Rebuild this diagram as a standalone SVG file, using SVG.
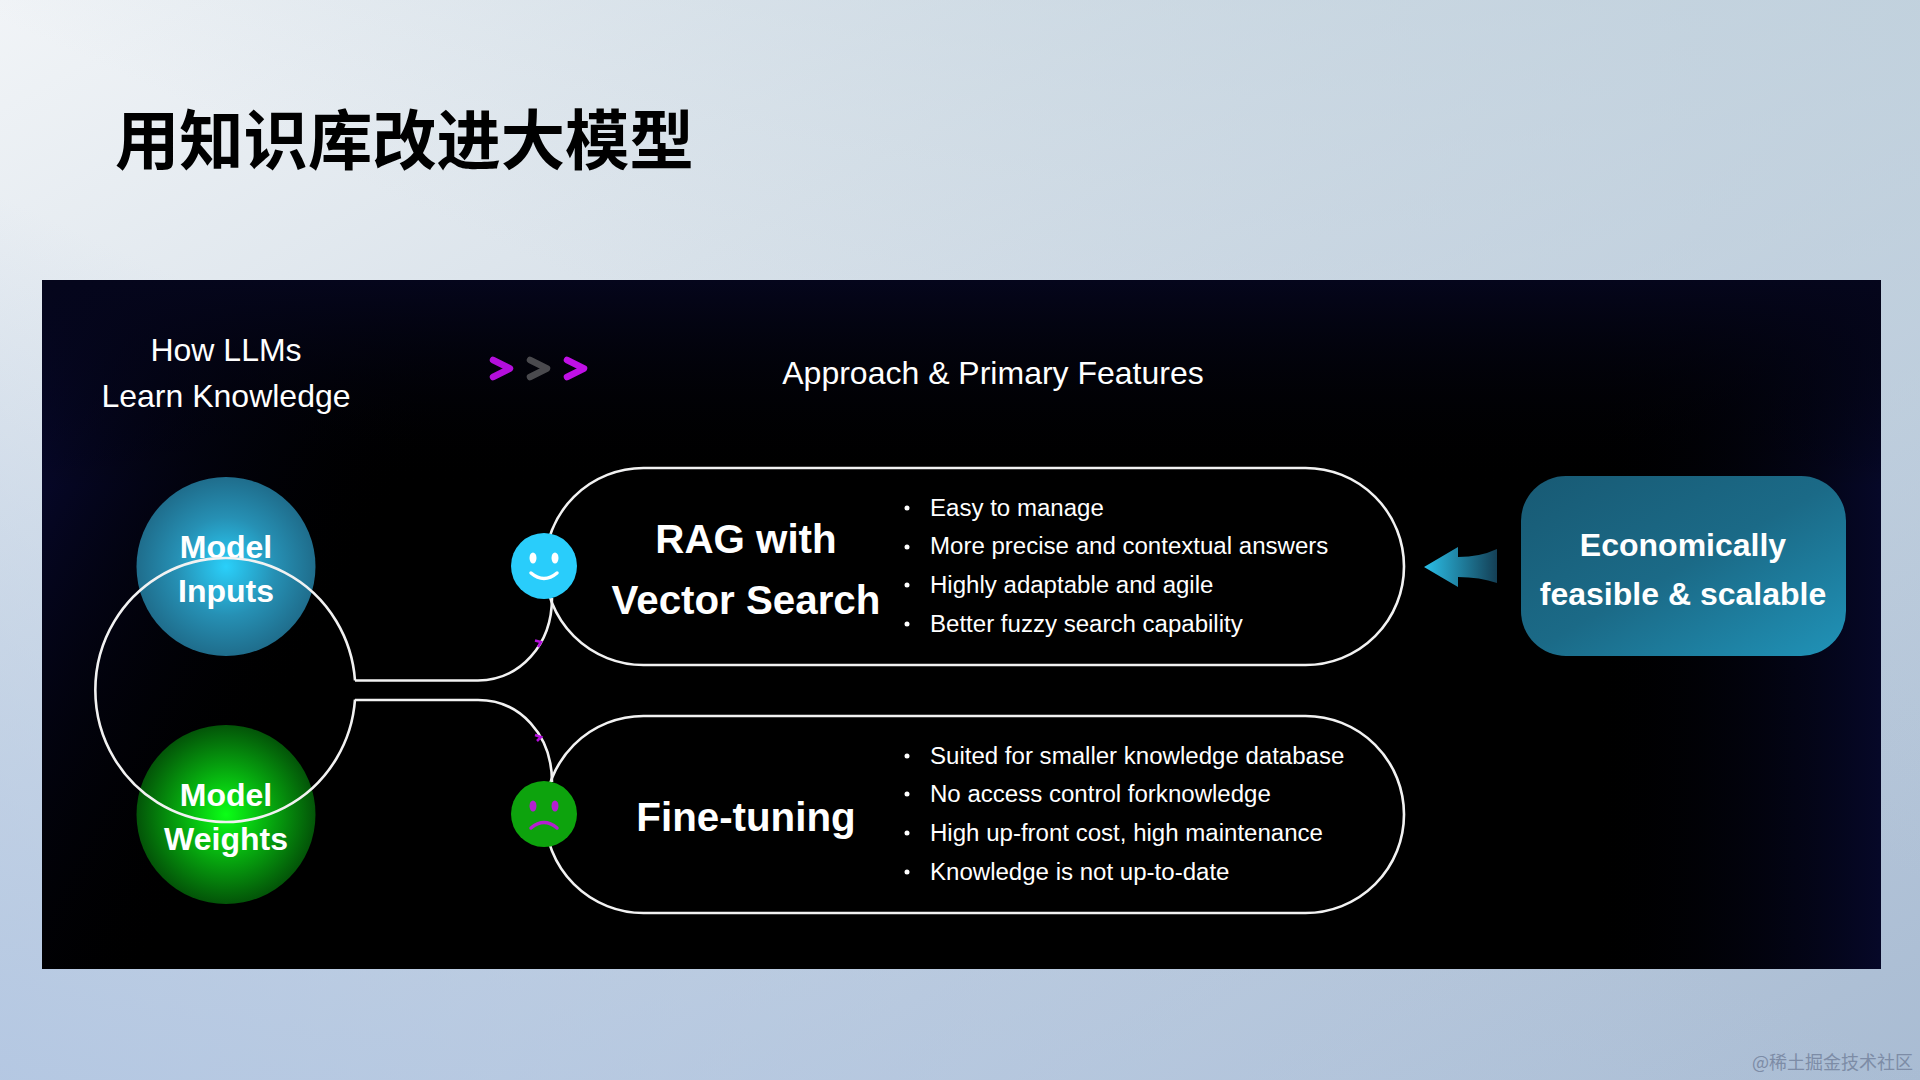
<svg xmlns="http://www.w3.org/2000/svg" width="1920" height="1080" viewBox="0 0 1920 1080">
<defs>
<linearGradient id="bg" x1="0" y1="0" x2="1" y2="1"><stop offset="0" stop-color="#f1f4f7"/><stop offset="0.3" stop-color="#d9e2ea"/><stop offset="0.7" stop-color="#bccbdd"/><stop offset="1" stop-color="#a9bcd3"/></linearGradient>
<linearGradient id="bgTR" x1="1" y1="0" x2="0.6" y2="0.5"><stop offset="0" stop-color="#bfd0dc" stop-opacity="0.8"/><stop offset="1" stop-color="#bfd0dc" stop-opacity="0"/></linearGradient>
<linearGradient id="bgBL" x1="0" y1="1" x2="0.4" y2="0.5"><stop offset="0" stop-color="#b2c6e2" stop-opacity="0.9"/><stop offset="1" stop-color="#b2c6e2" stop-opacity="0"/></linearGradient>
<linearGradient id="panelL" x1="0" y1="0" x2="1" y2="0.2"><stop offset="0" stop-color="#0a0c42"/><stop offset="0.25" stop-color="#000000" stop-opacity="0"/></linearGradient>
<linearGradient id="panelR" x1="1" y1="0.4" x2="0" y2="0.4"><stop offset="0" stop-color="#060828"/><stop offset="0.16" stop-color="#000000" stop-opacity="0"/></linearGradient>
<linearGradient id="panelT" x1="0" y1="0" x2="0" y2="1"><stop offset="0" stop-color="#05061c"/><stop offset="0.3" stop-color="#000000" stop-opacity="0"/></linearGradient>
<radialGradient id="blue"><stop offset="0" stop-color="#2ad0fa"/><stop offset="0.55" stop-color="#2690b4"/><stop offset="1" stop-color="#1f6d8c"/></radialGradient>
<radialGradient id="green"><stop offset="0" stop-color="#0bff16"/><stop offset="0.55" stop-color="#06a00e"/><stop offset="1" stop-color="#035408"/></radialGradient>
<linearGradient id="box" x1="0" y1="0" x2="1" y2="1"><stop offset="0" stop-color="#185a74"/><stop offset="0.5" stop-color="#1b6a87"/><stop offset="1" stop-color="#2093b8"/></linearGradient>
<linearGradient id="arrow" x1="0" y1="0" x2="1" y2="0"><stop offset="0" stop-color="#2bbfe8"/><stop offset="1" stop-color="#143f55"/></linearGradient>
</defs>
<style>
text{font-family:"Liberation Sans",Arial,"Noto Sans CJK SC",sans-serif;fill:#fff}
.line{fill:none;stroke:#f2f2f2;stroke-width:2.6}
.big{font-size:32px;font-weight:700;text-anchor:middle}
.head{font-size:32px}
.method{font-size:40.3px;font-weight:700;text-anchor:middle}
.item{font-size:24.05px}
.dot{fill:#fff}
.chev{fill:none;stroke-width:6.5;stroke-linecap:round;stroke-linejoin:round}
</style>
<rect width="1920" height="1080" fill="url(#bg)"/>
<rect width="1920" height="1080" fill="url(#bgTR)"/>
<rect width="1920" height="1080" fill="url(#bgBL)"/>
<text x="115" y="164" font-size="64.300" font-weight="700" style="fill:#000;font-family:'Noto Sans CJK SC','Liberation Sans',sans-serif">用知识库改进大模型</text>
<rect x="42" y="280" width="1839" height="689" fill="#000"/>
<rect x="42" y="280" width="1839" height="689" fill="url(#panelL)"/>
<rect x="42" y="280" width="1839" height="689" fill="url(#panelR)"/>
<rect x="42" y="280" width="1839" height="689" fill="url(#panelT)"/>
<g id="header-left"><text class="head" x="226" y="361" text-anchor="middle">How LLMs</text><text class="head" x="226" y="407" text-anchor="middle">Learn Knowledge</text></g>
<g id="chevrons">
<polyline class="chev" stroke="#b40fdc" points="493,360 510,368.5 493,377"/>
<polyline class="chev" stroke="#4a4a4e" points="530,360 547,368.5 530,377"/>
<polyline class="chev" stroke="#c010e6" points="567,360 584,368.5 567,377"/>
</g>
<text class="head" x="993" y="384" text-anchor="middle" id="header-right">Approach &amp; Primary Features</text>
<g id="node-inputs"><circle cx="226" cy="566.500" r="89.500" fill="url(#blue)"/><text class="big" x="226" y="558">Model</text><text class="big" x="226" y="602">Inputs</text></g>
<g id="node-weights"><circle cx="226" cy="814.500" r="89.500" fill="url(#green)"/><text class="big" x="226" y="806">Model</text><text class="big" x="226" y="850">Weights</text></g>
<g id="connectors">
<path class="line" d="M355 680.5A130 132 0 1 0 355 699.5"/>
<path class="line" d="M355 680.5H478C520 680 552 645 552 598"/>
<path class="line" d="M355 700H478C520 700 552 735 552 782"/>
<path d="M535 640.500L541 642 538 647" fill="none" stroke="#b40fdc" stroke-width="2.5"/>
<path d="M535 735L541 737 537 741" fill="none" stroke="#b40fdc" stroke-width="2.5"/>
</g>
<g id="node-rag">
<rect class="line" x="545" y="468" width="859" height="197" rx="98.500"/>
<text class="method" x="746" y="553">RAG with</text><text class="method" x="746" y="614">Vector Search</text>
<text class="item" x="930" y="516">Easy to manage</text><text class="item" x="930" y="554">More precise and contextual answers</text><text class="item" x="930" y="593">Highly adaptable and agile</text><text class="item" x="930" y="632">Better fuzzy search capability</text>
<circle class="dot" cx="907" cy="508" r="2.500"/><circle class="dot" cx="907" cy="547" r="2.500"/><circle class="dot" cx="907" cy="585" r="2.500"/><circle class="dot" cx="907" cy="624" r="2.500"/>
</g>
<g id="node-finetune">
<rect class="line" x="545" y="716" width="859" height="197" rx="98.500"/>
<text class="method" x="746" y="831">Fine-tuning</text>
<text class="item" x="930" y="764">Suited for smaller knowledge database</text><text class="item" x="930" y="802">No access control forknowledge</text><text class="item" x="930" y="841">High up-front cost, high maintenance</text><text class="item" x="930" y="880">Knowledge is not up-to-date</text>
<circle class="dot" cx="907" cy="756" r="2.500"/><circle class="dot" cx="907" cy="794" r="2.500"/><circle class="dot" cx="907" cy="833" r="2.500"/><circle class="dot" cx="907" cy="872" r="2.500"/>
</g>
<g id="smile"><circle cx="544" cy="566" r="33" fill="#29cdfb"/><ellipse cx="533" cy="558" rx="3.500" ry="5.500" fill="#fff"/><ellipse cx="555" cy="558" rx="3.500" ry="5.500" fill="#fff"/><path d="M531 573Q544 584 557 573" fill="none" stroke="#fff" stroke-width="3.500" stroke-linecap="round"/></g>
<g id="frown"><circle cx="544" cy="814" r="33" fill="#0da30d"/><ellipse cx="533" cy="806" rx="3.500" ry="5.500" fill="#b41fd0"/><ellipse cx="555" cy="806" rx="3.500" ry="5.500" fill="#b41fd0"/><path d="M531 828Q544 817 557 828" fill="none" stroke="#b41fd0" stroke-width="3.500" stroke-linecap="round"/></g>
<g id="arrow-left"><path d="M1424 567L1458 547V557Q1480 557 1497 549V583Q1480 577 1458 577V587Z" fill="url(#arrow)"/></g>
<g id="node-econ"><rect x="1521" y="476" width="325" height="180" rx="45" fill="url(#box)"/><text class="big" x="1683" y="556">Economically</text><text class="big" x="1683" y="605">feasible &amp; scalable</text></g>
<text x="1752" y="1069" font-size="18" style="fill:#7d8ca6;font-family:'Noto Sans CJK SC',sans-serif">@稀土掘金技术社区</text>
</svg>
